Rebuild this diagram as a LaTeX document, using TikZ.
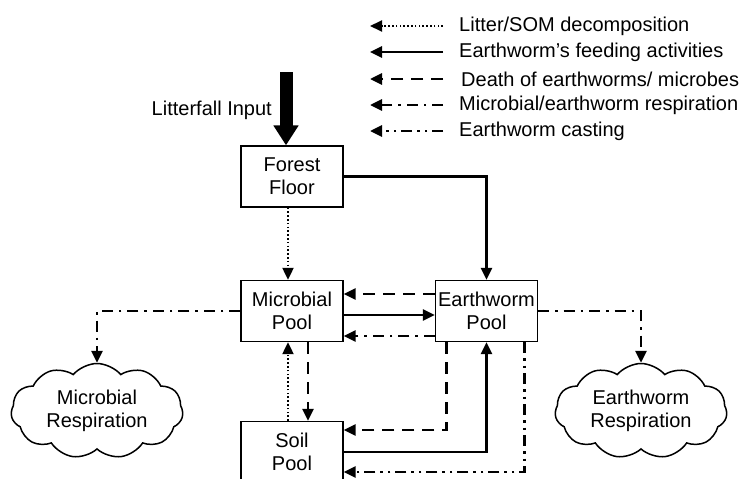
\documentclass[tikz,border=0pt]{standalone}
\usepackage{fontspec}
\setmainfont{Liberation Sans}
\usepackage{tikz}
\usetikzlibrary{arrows.meta,shapes.symbols}
\newcommand{\poolfont}{\fontsize{20}{23}\selectfont}

\tikzset{
	pool/.style={draw,line width=1.3pt,minimum width=102pt,minimum height=61pt,align=center,inner sep=0pt,font=\poolfont},
	respcloud/.style={draw,cloud,cloud puffs=11,cloud puff arc=100,cloud ignores aspect,line width=1.5pt,minimum width=172pt,minimum height=95pt,align=center,inner sep=0pt,font=\poolfont},
	legtext/.style={anchor=west,inner sep=0pt,font=\poolfont},
	tip/.style={-{Triangle[length=12pt,width=11pt]}},
	decomp/.style={tip,line width=2pt,dash pattern=on 1.6pt off 2.2pt},
	feed/.style={tip,line width=2.6pt},
	death/.style={tip,line width=2.8pt,dash pattern=on 12pt off 8pt},
	resp/.style={tip,line width=2.8pt,dash pattern=on 11pt off 6pt on 2.5pt off 6pt},
	cast/.style={tip,line width=2.8pt,dash pattern=on 11pt off 5pt on 2.5pt off 5pt on 2.5pt off 5pt},
}

\begin{document}
\begin{tikzpicture}[x=1pt,y=-1pt]
	\useasboundingbox (0,0) rectangle (740,479);

	% legend
	\node[legtext] (leg1) at (459,26) {Litter/SOM decomposition};
	\node[legtext] (leg2) at (459,52) {Earthworm's feeding activities};
	\node[legtext] (leg3) at (461,79) {Death of earthworms/ microbes};
	\node[legtext] (leg4) at (459,105) {Microbial/earthworm respiration};
	\node[legtext] (leg5) at (459,131) {Earthworm casting};
	\draw[decomp] ([xshift=-16]leg1.west) -- ++(-73,0);
	\draw[feed] ([xshift=-16]leg2.west) -- ++(-73,0);
	\draw[death] ([xshift=-18]leg3.west) -- ++(-73,0);
	\draw[resp] ([xshift=-16]leg4.west) -- ++(-73,0);
	\draw[cast] ([xshift=-16]leg5.west) -- ++(-73,0);

	% pools
	\node[pool] (floor) at (292,176.5) {Forest\\Floor};
	\node[pool] (mic) at (292,311) {Microbial\\Pool};
	\node[pool] (worm) at (486.5,311) {Earthworm\\Pool};
	\node[pool] (soil) at (292,452) {Soil\\Pool};
	\node[respcloud] (micresp) at (97,411) {Microbial\\Respiration};
	\node[respcloud] (wormresp) at (641,411) {Earthworm\\Respiration};

	% litter input
	\coordinate (litter) at (286,72);
	\node[anchor=east,inner sep=0pt,font=\poolfont] (littext) at (272,110) {Litterfall Input};
	\draw[line width=13pt,-{Triangle[length=20pt,width=24pt]}] (litter) -- ([xshift=-6]floor.north);

	% fluxes
	\draw[decomp] ([xshift=-4]floor.south) -- ([xshift=-4]mic.north);
	\draw[feed] (floor.east) -| (worm.north);
	\draw[death] ([yshift=17]worm.west) -- ([yshift=17]mic.east);
	\draw[feed] ([yshift=-4]mic.east) -- ([yshift=-4]worm.west);
	\draw[resp] ([yshift=-25]worm.west) -- ([yshift=-25]mic.east);
	\draw[death] ([xshift=16]mic.south) -- ([xshift=16]soil.north);
	\draw[decomp] ([xshift=-4]soil.north) -- ([xshift=-4]mic.south);
	\draw[death] ([xshift=-40]worm.south) |- ([yshift=22]soil.east);
	\draw[feed] (soil.east) -| (worm.south);
	\draw[cast] ([xshift=38]worm.south) |- ([yshift=-20]soil.east);
	\draw[resp] (mic.west) -| (micresp.north);
	\draw[resp] (worm.east) -| (wormresp.north);
\end{tikzpicture}
\end{document}
